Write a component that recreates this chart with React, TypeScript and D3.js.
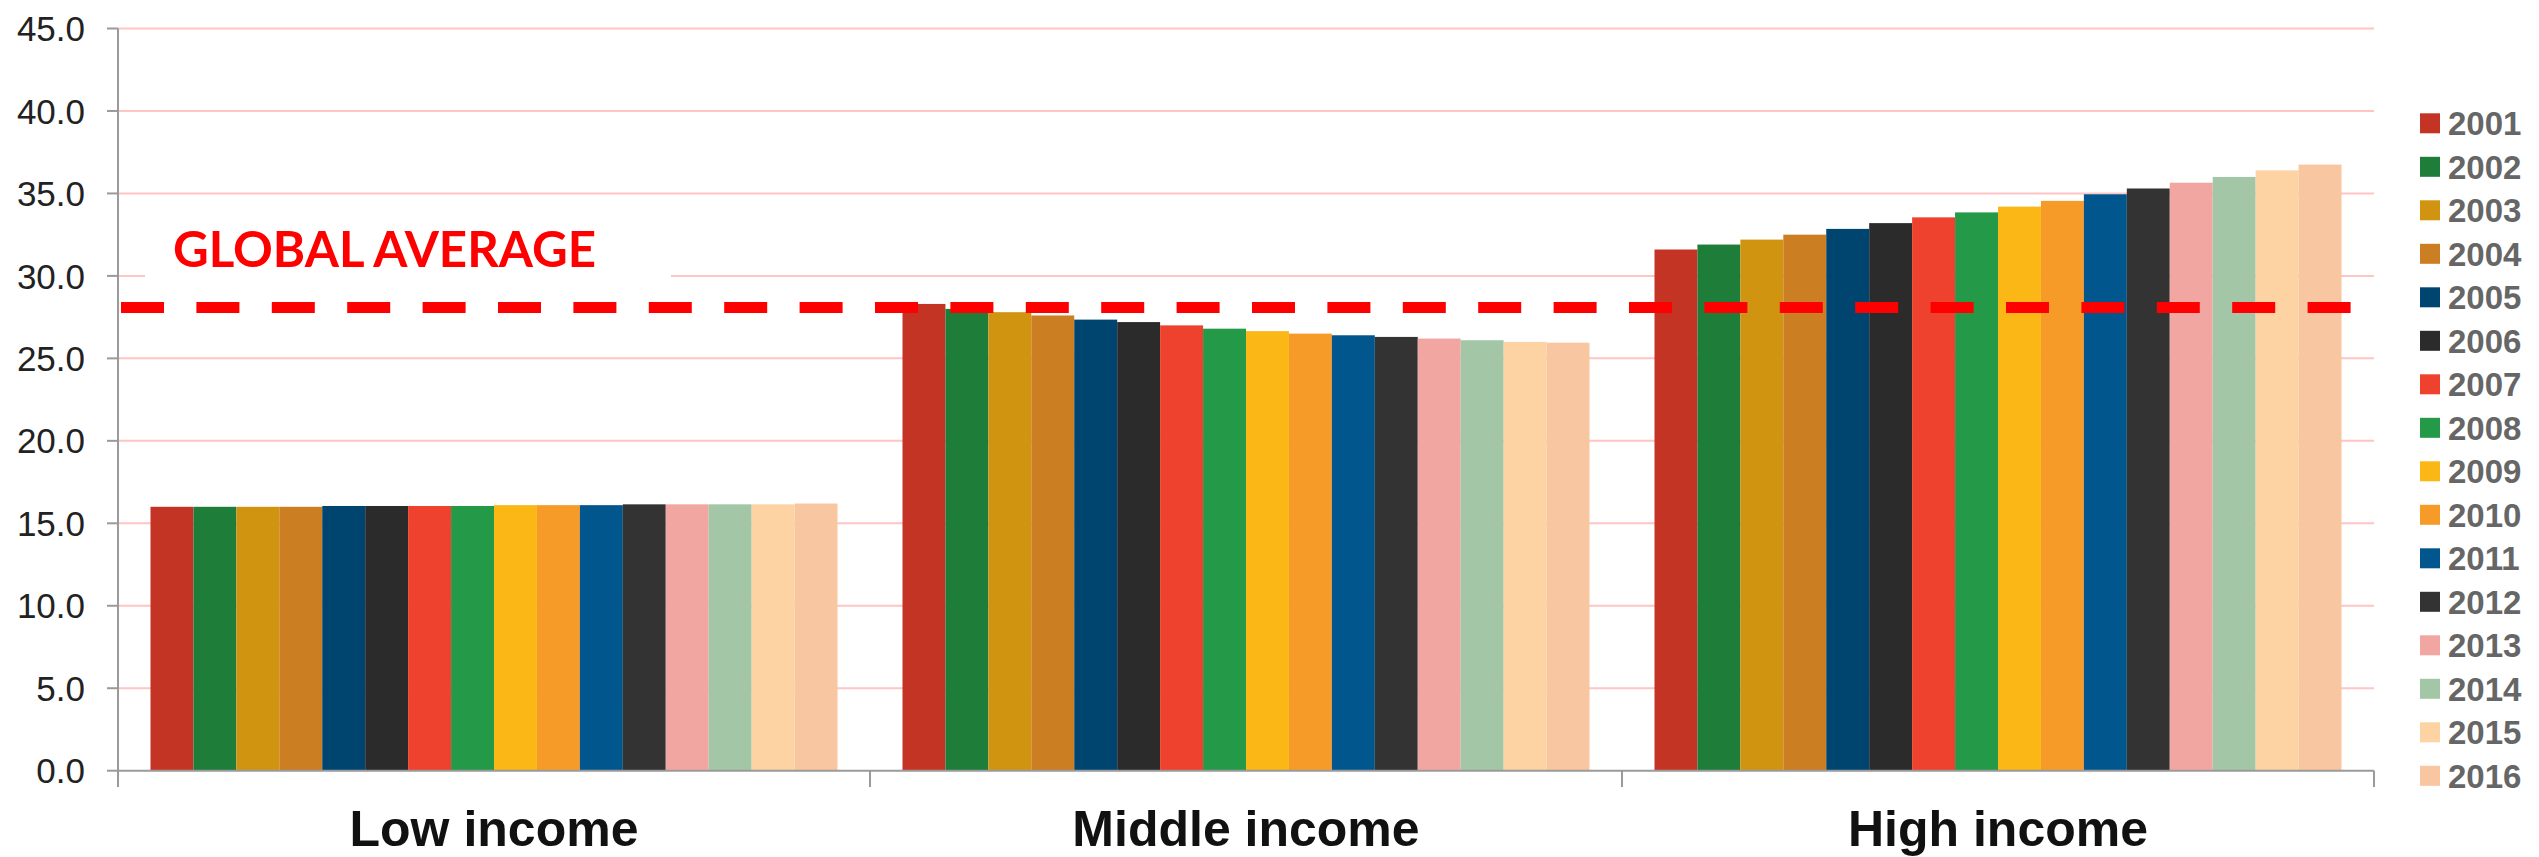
import { useEffect, useRef } from 'react';
import * as d3 from 'd3';

const categories = ['Low income', 'Middle income', 'High income'];
const years = ['2001', '2002', '2003', '2004', '2005', '2006', '2007', '2008',
  '2009', '2010', '2011', '2012', '2013', '2014', '2015', '2016'];
const lowIncome = [16.0, 16.0, 16.0, 16.0, 16.05, 16.05, 16.05, 16.05, 16.1, 16.1, 16.1, 16.15, 16.15, 16.15, 16.15, 16.2];
const middleIncome = [28.3, 28.0, 27.8, 27.6, 27.35, 27.2, 27.0, 26.8, 26.65, 26.5, 26.4, 26.3, 26.2, 26.1, 26.0, 25.95];
const highIncome = [31.6, 31.9, 32.2, 32.5, 32.85, 33.2, 33.55, 33.85, 34.2, 34.55, 34.95, 35.3, 35.65, 36.0, 36.4, 36.75];
const yearColors = ['#C43424', '#1F7D3A', '#D09410', '#CC7E22', '#004570', '#2B2B2B', '#EE412E', '#249948',
  '#FBB716', '#F79B28', '#00568D', '#333333', '#F2A6A2', '#A3C7A6', '#FDD3A3', '#F8C6A0'];
const yTicks = [0, 5, 10, 15, 20, 25, 30, 35, 40, 45];
const globalAverage = 28.08;
const averageLabel = 'GLOBAL AVERAGE';

const W = 2539;
const H = 857;

export default function App() {
  const svgRef = useRef(null);

  useEffect(() => {
    const svg = d3.select(svgRef.current);
    svg.selectAll('*').remove();

    const series = [lowIncome, middleIncome, highIncome];
    const left = 118, right = 2374, top = 28.5, bottom = 770.7;

    const x0 = d3.scaleBand().domain(categories).range([left, right])
      .paddingInner(0.0864).paddingOuter(0.0432);
    const x1 = d3.scaleBand().domain(years).range([0, x0.bandwidth()]);
    const y = d3.scaleLinear().domain([0, 45]).range([bottom, top]);
    const font = '"Liberation Sans", Arial, sans-serif';

    // gridlines
    svg.append('g').selectAll('line')
      .data(yTicks.filter(d => d > 0))
      .join('line')
      .attr('x1', left).attr('x2', right)
      .attr('y1', d => y(d)).attr('y2', d => y(d))
      .attr('stroke', '#FFC4C4').attr('stroke-width', 2);

    // y tick labels and marks
    const yg = svg.append('g');
    yg.selectAll('text')
      .data(yTicks)
      .join('text')
      .attr('x', 85).attr('y', d => y(d)).attr('dy', '0.36em')
      .attr('text-anchor', 'end')
      .attr('font-family', font).attr('font-size', 35).attr('fill', '#222')
      .text(d => d3.format('.1f')(d));
    yg.selectAll('line')
      .data(yTicks)
      .join('line')
      .attr('x1', 107).attr('x2', left)
      .attr('y1', d => y(d)).attr('y2', d => y(d))
      .attr('stroke', '#9a9a9a').attr('stroke-width', 2);

    // label box and label
    svg.append('rect')
      .attr('x', 145).attr('y', 222).attr('width', 526).attr('height', 66)
      .attr('fill', '#fff');
    svg.append('text')
      .attr('x', 173).attr('y', 267)
      .attr('font-family', 'Lato, "Open Sans", sans-serif')
      .attr('font-weight', 700).attr('font-size', 49)
      .attr('fill', '#FF0000')
      .attr('textLength', 423).attr('lengthAdjust', 'spacingAndGlyphs')
      .text(averageLabel);

    // bars
    categories.forEach((cat, ci) => {
      svg.append('g')
        .attr('transform', `translate(${x0(cat)},0)`)
        .selectAll('rect')
        .data(series[ci])
        .join('rect')
        .attr('x', (d, i) => x1(years[i]))
        .attr('width', x1.bandwidth())
        .attr('y', d => y(d))
        .attr('height', d => bottom - y(d))
        .attr('fill', (d, i) => yearColors[i]);
    });

    // axes
    svg.append('line')
      .attr('x1', left).attr('x2', right).attr('y1', bottom).attr('y2', bottom)
      .attr('stroke', '#9a9a9a').attr('stroke-width', 2);
    svg.append('line')
      .attr('x1', left).attr('x2', left).attr('y1', top).attr('y2', 787)
      .attr('stroke', '#9a9a9a').attr('stroke-width', 2);
    const step = x0.step();
    svg.append('g').selectAll('line')
      .data(categories)
      .join('line')
      .attr('x1', (d, i) => left + step * (i + 1)).attr('x2', (d, i) => left + step * (i + 1))
      .attr('y1', bottom).attr('y2', 787)
      .attr('stroke', '#9a9a9a').attr('stroke-width', 2);

    // category labels
    svg.append('g').selectAll('text')
      .data(categories)
      .join('text')
      .attr('x', d => x0(d) + x0.bandwidth() / 2)
      .attr('y', 846)
      .attr('text-anchor', 'middle')
      .attr('font-family', font).attr('font-weight', 700).attr('font-size', 50)
      .attr('fill', '#111')
      .text(d => d);

    // global average dashed line
    svg.append('line')
      .attr('x1', 121).attr('x2', 2351)
      .attr('y1', y(globalAverage)).attr('y2', y(globalAverage))
      .attr('stroke', '#FF0000').attr('stroke-width', 11)
      .attr('stroke-dasharray', '43 32.4');

    // legend
    const legend = svg.append('g').selectAll('g')
      .data(years)
      .join('g')
      .attr('transform', (d, i) => `translate(2420,${123.3 + i * 43.5})`);
    legend.append('rect')
      .attr('x', 0).attr('y', -10).attr('width', 20).attr('height', 20)
      .attr('fill', (d, i) => yearColors[i]);
    legend.append('text')
      .attr('x', 28).attr('y', 12)
      .attr('font-family', font).attr('font-weight', 700).attr('font-size', 33)
      .attr('fill', '#666')
      .text(d => d);
  }, []);

  return (
    <svg
      ref={svgRef}
      width={W}
      height={H}
      style={{ position: 'absolute', left: 0, top: 0, background: '#fff' }}
    />
  );
}
